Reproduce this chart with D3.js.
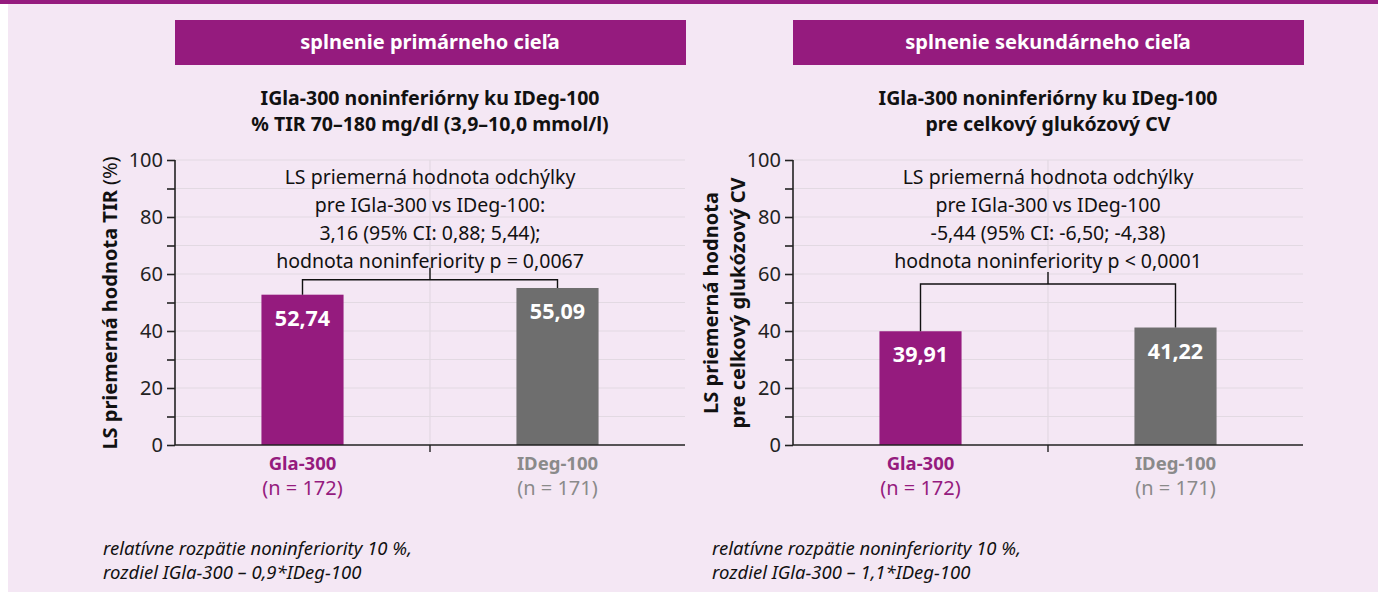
<!DOCTYPE html>
<html>
<head>
<meta charset="utf-8">
<script src="https://cdn.jsdelivr.net/npm/d3@7"></script>
<style>
  body { margin: 0; background: #ffffff; }
  svg text { font-family: "Noto Sans", "Open Sans", sans-serif; }
</style>
</head>
<body>
<svg id="graf" width="1378" height="592"></svg>
<script>
// ---------------- data ----------------
var categories = ["Gla-300", "IDeg-100"];
var groupSizes = ["(n = 172)", "(n = 171)"];
var tirValues = [52.74, 55.09];
var cvValues = [39.91, 41.22];
var bracketLevels = [58, 56.5];
var yTicks = [0, 20, 40, 60, 80, 100];
var yMinorTicks = [0, 10, 20, 30, 40, 50, 60, 70, 80, 90, 100];
var headers = ["splnenie primárneho cieľa", "splnenie sekundárneho cieľa"];
var titles = [
  ["IGla-300 noninferiórny ku IDeg-100", "% TIR 70–180 mg/dl (3,9–10,0 mmol/l)"],
  ["IGla-300 noninferiórny ku IDeg-100", "pre celkový glukózový CV"]
];
var annotations = [
  ["LS priemerná hodnota odchýlky", "pre IGla-300 vs IDeg-100:", "3,16 (95% CI: 0,88; 5,44);", "hodnota noninferiority p = 0,0067"],
  ["LS priemerná hodnota odchýlky", "pre IGla-300 vs IDeg-100", "-5,44 (95% CI: -6,50; -4,38)", "hodnota noninferiority p < 0,0001"]
];
var footnotes = [
  ["relatívne rozpätie noninferiority 10 %,", "rozdiel IGla-300 – 0,9*IDeg-100"],
  ["relatívne rozpätie noninferiority 10 %,", "rozdiel IGla-300 – 1,1*IDeg-100"]
];

var purple = "#951b7e";
var grey = "#6e6e6e";
var barColors = [purple, grey];
var labelColors = [purple, "#8a8a8a"];

var svg = d3.select("#graf");

// fond
svg.append("rect").attr("x", 8).attr("y", 0).attr("width", 1370).attr("height", 592).attr("fill", "#f4e7f4");
svg.append("rect").attr("x", 0).attr("y", 0).attr("width", 1378).attr("height", 4).attr("fill", purple);

//------------- un panneau -------------
function dessinerPanneau(p, valeurs, x0) {
  var largeur = 510;
  var g = svg.append("g");
  var cx = x0 + largeur / 2;

  var x = d3.scaleBand().domain(categories).range([x0, x0 + largeur])
    .paddingInner(0.678).paddingOuter(0.339);
  var y = d3.scaleLinear().domain([0, 100]).range([445, 160]);

  // entête
  g.append("rect").attr("x", x0).attr("y", 20).attr("width", largeur + 1).attr("height", 45).attr("fill", purple);
  g.append("text").attr("x", cx).attr("y", 49).attr("text-anchor", "middle")
    .attr("fill", "white").attr("font-size", 20).attr("font-weight", 700).text(headers[p]);

  // titre
  titles[p].forEach(function (t, i) {
    g.append("text").attr("x", cx).attr("y", 105 + i * 26).attr("text-anchor", "middle")
      .attr("font-size", 19.5).attr("font-weight", 700).attr("fill", "#111").text(t);
  });

  // grille
  g.selectAll(".grid").data(yMinorTicks.slice(1)).enter().append("line")
    .attr("x1", x0).attr("x2", x0 + largeur)
    .attr("y1", function (d) { return y(d); }).attr("y2", function (d) { return y(d); })
    .attr("stroke", "#e2d9e2").attr("stroke-width", 1.2);
  g.append("line").attr("x1", cx).attr("x2", cx).attr("y1", y(100)).attr("y2", y(0))
    .attr("stroke", "#e2d9e2").attr("stroke-width", 1.2);

  // axe y
  var axeY = d3.axisLeft(y).tickValues(yMinorTicks).tickSize(8).tickPadding(4)
    .tickFormat(function (d) { return yTicks.indexOf(d) >= 0 ? d : ""; });
  var ay = g.append("g").attr("transform", "translate(" + x0 + ",0)").call(axeY);
  ay.select(".domain").attr("stroke", "#222").attr("stroke-width", 1.6).attr("d", "M0," + y(100) + "V" + y(0));
  ay.selectAll(".tick line").attr("stroke", "#222").attr("stroke-width", 1.6);
  ay.selectAll(".tick text").attr("font-size", 20).attr("fill", "#222")
    .style("font-family", '"Noto Sans", sans-serif');

  // barres
  g.selectAll(".bar").data(valeurs).enter().append("rect")
    .attr("x", function (d, i) { return x(categories[i]); })
    .attr("y", function (d) { return y(d); })
    .attr("width", x.bandwidth())
    .attr("height", function (d) { return y(0) - y(d); })
    .attr("fill", function (d, i) { return barColors[i]; });

  g.selectAll(".val").data(valeurs).enter().append("text")
    .attr("x", function (d, i) { return x(categories[i]) + x.bandwidth() / 2; })
    .attr("y", function (d) { return y(d) + 31; })
    .attr("text-anchor", "middle").attr("fill", "white")
    .attr("font-size", 21.5).attr("font-weight", 700)
    .text(function (d) { return d.toFixed(2).replace(".", ","); });

  // axe x
  g.append("line").attr("x1", x0).attr("x2", x0 + largeur).attr("y1", y(0)).attr("y2", y(0))
    .attr("stroke", "#222").attr("stroke-width", 1.6);
  g.append("line").attr("x1", cx).attr("x2", cx).attr("y1", y(0)).attr("y2", y(0) + 7)
    .attr("stroke", "#222").attr("stroke-width", 1.4);

  categories.forEach(function (c, i) {
    var bx = x(c) + x.bandwidth() / 2;
    g.append("text").attr("x", bx).attr("y", 470).attr("text-anchor", "middle")
      .attr("font-size", 18.5).attr("font-weight", 700).attr("fill", labelColors[i]).text(c);
    g.append("text").attr("x", bx).attr("y", 495).attr("text-anchor", "middle")
      .attr("font-size", 20).attr("fill", labelColors[i]).text(groupSizes[i]);
  });

  // crochet
  var by = y(bracketLevels[p]);
  var xa = x(categories[0]) + x.bandwidth() / 2;
  var xb = x(categories[1]) + x.bandwidth() / 2;
  var d = "M" + xa + "," + y(valeurs[0]) + " V" + by + " H" + xb + " V" + y(valeurs[1]);
  g.append("path").attr("d", d).attr("fill", "none").attr("stroke", "#111").attr("stroke-width", 1.4);
  g.append("line").attr("x1", cx).attr("x2", cx).attr("y1", by).attr("y2", by - 12)
    .attr("stroke", "#111").attr("stroke-width", 1.4);

  annotations[p].forEach(function (t, i) {
    g.append("text").attr("x", cx).attr("y", 184 + i * 28).attr("text-anchor", "middle")
      .attr("font-size", 19.5).attr("fill", "#111").text(t);
  });

  // notes
  footnotes[p].forEach(function (t, i) {
    g.append("text").attr("x", x0 - 72 - p * 9).attr("y", 555 + i * 24)
      .attr("font-size", 18.5).attr("font-style", "italic").attr("fill", "#111").text(t);
  });
  return g;
}

var g1 = dessinerPanneau(0, tirValues, 175);
var g2 = dessinerPanneau(1, cvValues, 793);

// titres des axes y
var t1 = g1.append("text").attr("transform", "translate(117,303) rotate(-90)")
  .attr("text-anchor", "middle").attr("font-size", 20).attr("fill", "#111");
t1.append("tspan").attr("font-weight", 700).text("LS priemerná hodnota TIR ");
t1.append("tspan").text("(%)");

["LS priemerná hodnota", "pre celkový glukózový CV"].forEach(function (t, i) {
  g2.append("text").attr("transform", "translate(" + (718 + i * 27) + ",303) rotate(-90)")
    .attr("text-anchor", "middle").attr("font-size", 20).attr("font-weight", 700)
    .attr("fill", "#111").text(t);
});
</script>
</body>
</html>
